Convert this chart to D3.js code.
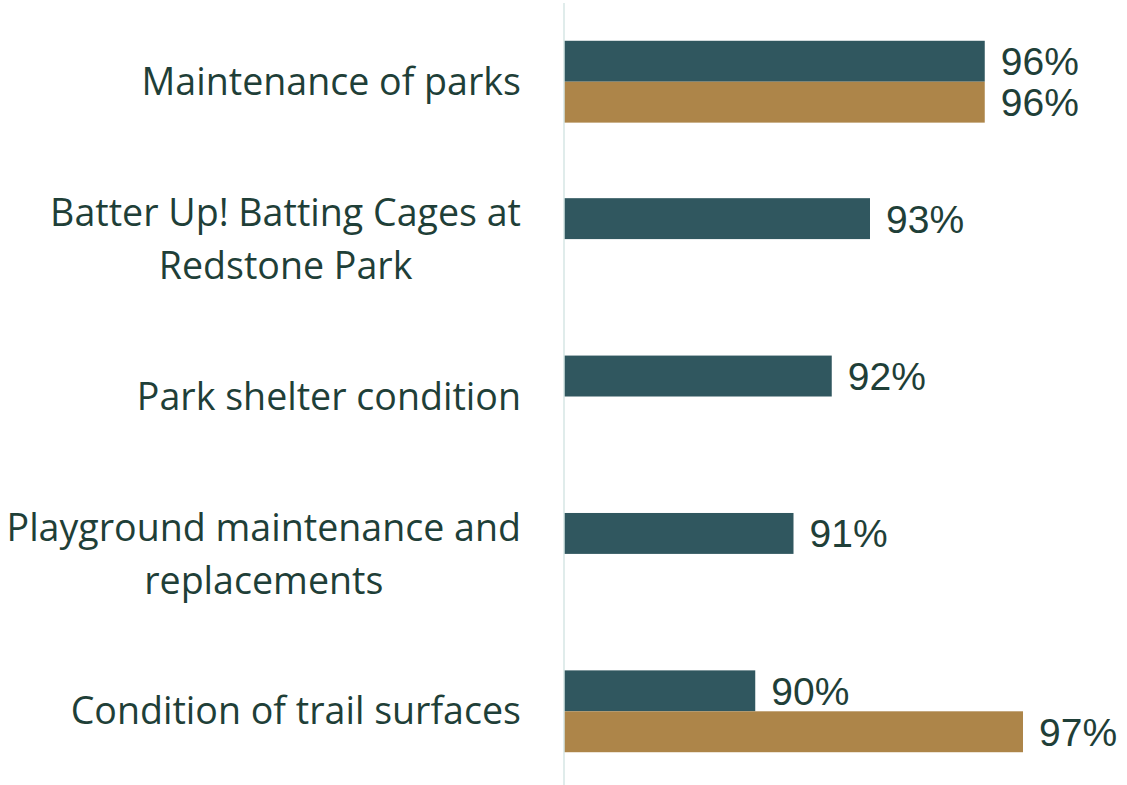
<!DOCTYPE html>
<html>
<head>
<meta charset="utf-8">
<script src="https://cdn.jsdelivr.net/npm/d3@7"></script>
<style>
  body { margin: 0; background: #fff; }
  .cat { font-family: "Open Sans", sans-serif; font-size: 37.6px; fill: #1f3f38; }
  .val { font-family: "Liberation Sans", Arial, sans-serif; font-size: 39px; fill: #1f3f38; }
</style>
</head>
<body>
<div id="chart"></div>
<script>
// Chart Data
let categories = [
  ["Maintenance of parks"],
  ["Batter Up! Batting Cages at", "Redstone Park"],
  ["Park shelter condition"],
  ["Playground maintenance and", "replacements"],
  ["Condition of trail surfaces"]
];
let seriesNames = ["current", "previous"];
let currentValues = [96, 93, 92, 91, 90];
let previousValues = [96, null, null, null, 97];
let colors = ["#30575f", "#ad8549"];

// Dimensions For SVG Element
let w = 1127, h = 785;
let svg = d3.select("#chart").append("svg").attr("width", w).attr("height", h);

let keys = categories.map((d, i) => i);

// Initialising Scales
let xScale = d3.scaleLinear().domain([85, 97]).range([564, 1023]);
let yScale = d3.scaleBand().domain(keys).range([3, 790]).paddingInner(0.48).paddingOuter(0.24);
let ySub = d3.scaleBand().domain(seriesNames).range([0, yScale.bandwidth()]);

// Build Rows
let rows = keys.map((i) => {
  return { key: i, label: categories[i], values: [currentValues[i], previousValues[i]] };
});

let group = svg.selectAll(".group").data(rows).enter().append("g")
  .attr("transform", (d) => "translate(0," + yScale(d.key) + ")");

// Draw Bars
let bars = group.selectAll("rect")
  .data((d) => d.values.map((v, j) => ({ name: seriesNames[j], value: v, color: colors[j] })).filter((b) => b.value != null))
  .enter();

bars.append("rect")
  .attr("x", xScale(85))
  .attr("y", (d) => ySub(d.name))
  .attr("width", (d) => xScale(d.value) - xScale(85))
  .attr("height", ySub.bandwidth())
  .attr("fill", (d) => d.color);

// Value Labels
bars.append("text").attr("class", "val")
  .attr("x", (d) => xScale(d.value) + 16)
  .attr("y", (d) => ySub(d.name) + ySub.bandwidth() / 2)
  .attr("dy", "0.36em")
  .text((d) => d.value + "%");

// Category Labels (block right-aligned, lines centred within block)
let lineH = 53, labelRight = 521;
group.append("text").attr("class", "cat")
  .attr("text-anchor", "middle")
  .each(function (d) {
    let t = d3.select(this);
    let n = d.label.length;
    let spans = d.label.map((line, k) => {
      return t.append("tspan")
        .attr("y", yScale.bandwidth() / 2 + (k - (n - 1) / 2) * lineH)
        .attr("dy", "0.35em")
        .text(line);
    });
    let maxW = d3.max(spans, (s) => s.node().getComputedTextLength());
    spans.forEach((s) => s.attr("x", labelRight - maxW / 2));
  });

// Draw Axis Line
svg.append("line")
  .attr("x1", xScale(85)).attr("x2", xScale(85))
  .attr("y1", 3).attr("y2", h)
  .attr("stroke", "#d6e6e4").attr("stroke-width", 1.5);
</script>
</body>
</html>
